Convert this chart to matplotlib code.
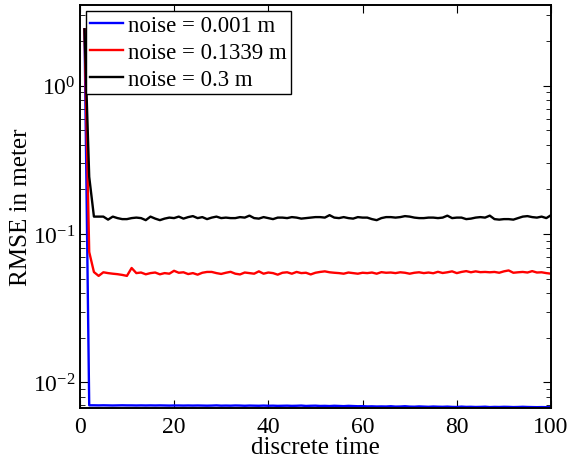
import numpy as np
import matplotlib
matplotlib.use("Agg")
import matplotlib.pyplot as plt
from matplotlib.ticker import LogLocator, NullFormatter, MultipleLocator

plt.rcParams["font.family"] = ["Liberation Serif", "DejaVu Serif"]
plt.rcParams["mathtext.fontset"] = "stix"

# discrete time steps
t = np.arange(1, 101)

# RMSE values
rmse_small = [2.40, 0.00700, 0.00700, 0.00699, 0.00700, 0.00699, 0.00698, 0.00699, 0.00700, 0.00699,
              0.00699, 0.00698, 0.00699, 0.00698, 0.00699, 0.00698, 0.00699, 0.00698, 0.00697, 0.00698,
              0.00698, 0.00697, 0.00698, 0.00697, 0.00698, 0.00697, 0.00696, 0.00697, 0.00699, 0.00696,
              0.00697, 0.00696, 0.00698, 0.00697, 0.00695, 0.00697, 0.00696, 0.00695, 0.00697, 0.00695,
              0.00696, 0.00694, 0.00695, 0.00696, 0.00694, 0.00695, 0.00697, 0.00693, 0.00695, 0.00696,
              0.00693, 0.00694, 0.00692, 0.00695, 0.00693, 0.00691, 0.00694, 0.00692, 0.00690, 0.00691,
              0.00688, 0.00689, 0.00687, 0.00688, 0.00687, 0.00690, 0.00686, 0.00687, 0.00690, 0.00686,
              0.00685, 0.00688, 0.00686, 0.00684, 0.00687, 0.00685, 0.00684, 0.00686, 0.00683, 0.00682,
              0.00686, 0.00683, 0.00684, 0.00682, 0.00683, 0.00685, 0.00681, 0.00683, 0.00682, 0.00684,
              0.00683, 0.00681, 0.00682, 0.00684, 0.00682, 0.00681, 0.00680, 0.00681, 0.00680, 0.00682]
rmse_mid = [2.40, 0.0756, 0.0554, 0.0522, 0.0552, 0.0545, 0.0540, 0.0536, 0.0530, 0.0522,
            0.0590, 0.0545, 0.0550, 0.0535, 0.0545, 0.0550, 0.0535, 0.0545, 0.0540, 0.0565,
            0.0548, 0.0552, 0.0537, 0.0545, 0.0532, 0.0548, 0.0555, 0.0555, 0.0545, 0.0538,
            0.0548, 0.0556, 0.0540, 0.0534, 0.0550, 0.0545, 0.0540, 0.0560, 0.0540, 0.0550,
            0.0545, 0.0532, 0.0548, 0.0552, 0.0540, 0.0555, 0.0545, 0.0548, 0.0534, 0.0548,
            0.0555, 0.0560, 0.0552, 0.0548, 0.0545, 0.0540, 0.0550, 0.0545, 0.0540, 0.0548,
            0.0545, 0.0550, 0.0540, 0.0553, 0.0548, 0.0550, 0.0545, 0.0552, 0.0548, 0.0540,
            0.0548, 0.0552, 0.0545, 0.0550, 0.0544, 0.0556, 0.0546, 0.0552, 0.0560, 0.0545,
            0.0555, 0.0562, 0.0552, 0.0560, 0.0553, 0.0555, 0.0552, 0.0555, 0.0548, 0.0560,
            0.0568, 0.0548, 0.0552, 0.0555, 0.0550, 0.0562, 0.0550, 0.0552, 0.0545, 0.0540]
rmse_large = [2.40, 0.243, 0.131, 0.131, 0.131, 0.125, 0.131, 0.128, 0.126, 0.126,
              0.128, 0.129, 0.128, 0.124, 0.131, 0.127, 0.124, 0.127, 0.129, 0.128,
              0.131, 0.127, 0.130, 0.132, 0.128, 0.130, 0.126, 0.129, 0.131, 0.128,
              0.129, 0.128, 0.128, 0.130, 0.129, 0.133, 0.128, 0.127, 0.130, 0.128,
              0.126, 0.129, 0.129, 0.128, 0.130, 0.129, 0.127, 0.128, 0.129, 0.130,
              0.130, 0.129, 0.134, 0.129, 0.128, 0.130, 0.128, 0.127, 0.130, 0.129,
              0.129, 0.126, 0.124, 0.128, 0.130, 0.130, 0.129, 0.130, 0.132, 0.131,
              0.129, 0.128, 0.128, 0.129, 0.129, 0.128, 0.129, 0.133, 0.128, 0.129,
              0.129, 0.126, 0.127, 0.129, 0.130, 0.129, 0.133, 0.126, 0.125, 0.126,
              0.126, 0.125, 0.128, 0.131, 0.132, 0.130, 0.129, 0.131, 0.128, 0.134]

labels = ["noise = 0.001 m", "noise = 0.1339 m", "noise = 0.3 m"]
colors = ["#0000ff", "#ff0000", "#000000"]

fig = plt.figure(figsize=(5.74, 4.6), dpi=100)
ax = fig.add_axes([0.139, 0.111, 0.821, 0.876])

for y, lab, c in zip([rmse_small, rmse_mid, rmse_large], labels, colors):
    ax.plot(t, y, color=c, lw=1.7, label=lab)

ax.set_yscale("log")
ax.set_xlim(0, 100)
ax.set_ylim(0.00672, 3.5)
ax.xaxis.set_major_locator(MultipleLocator(20))
ax.yaxis.set_major_locator(LogLocator(base=10, numticks=10))
ax.yaxis.set_minor_locator(LogLocator(base=10, subs=np.arange(2, 10), numticks=10))
ax.yaxis.set_minor_formatter(NullFormatter())

ax.tick_params(which="both", direction="in", top=True, right=True, labelsize=17)
ax.tick_params(axis="x", pad=6)
ax.tick_params(axis="y", pad=3)
ax.tick_params(which="major", length=6, width=0.8)
ax.tick_params(which="minor", length=3.5, width=0.6)
for s in ax.spines.values():
    s.set_linewidth(1.4)

ax.set_xlabel("discrete time", fontsize=18, labelpad=-1)
ax.set_ylabel("RMSE in meter", fontsize=18)
ax.yaxis.set_label_coords(-0.102, 0.5)

leg = ax.legend(loc="upper left", fontsize=16.5, frameon=True, fancybox=False,
                edgecolor="black", framealpha=1, handlelength=1.45, handletextpad=0.2,
                borderpad=0.2, labelspacing=0.25, borderaxespad=0.25)
leg.get_frame().set_linewidth(1.0)

fig.savefig("out.png", dpi=100)
